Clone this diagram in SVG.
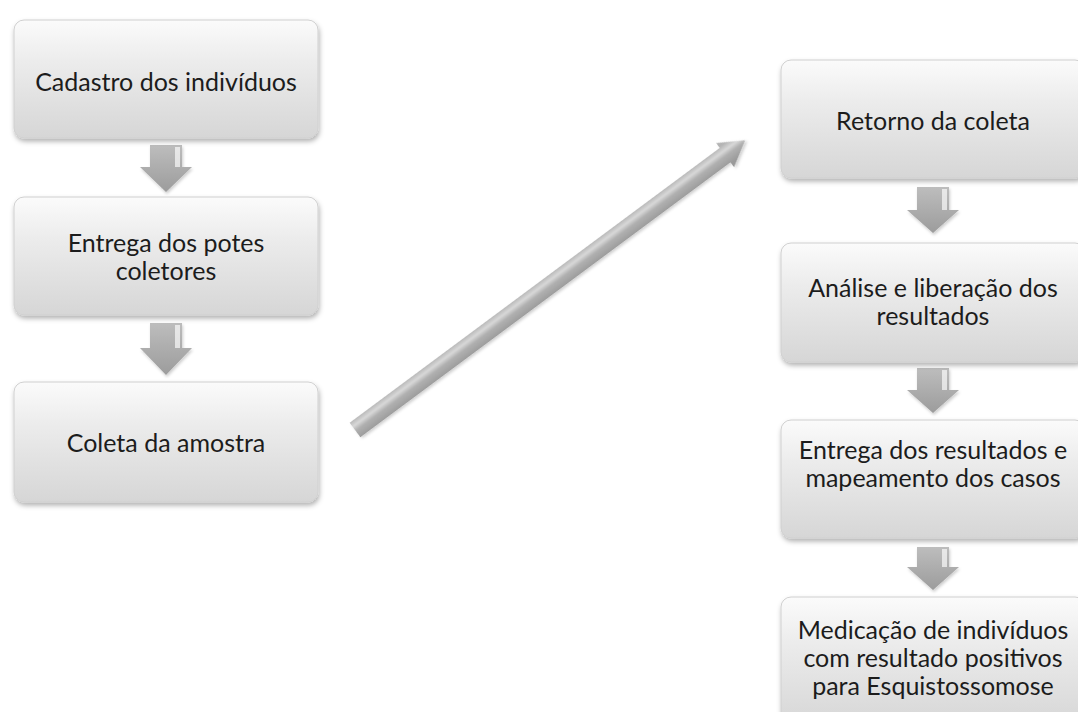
<svg xmlns="http://www.w3.org/2000/svg" width="1078" height="712" viewBox="0 0 1078 712">
<defs>
<linearGradient id="boxg" x1="0" y1="0" x2="0" y2="1">
<stop offset="0" stop-color="#fbfbfb"/>
<stop offset="0.35" stop-color="#ececec"/>
<stop offset="1" stop-color="#d6d6d6"/>
</linearGradient>
<linearGradient id="arrg" x1="0" y1="0" x2="0" y2="1">
<stop offset="0" stop-color="#bdbdbd"/>
<stop offset="1" stop-color="#9c9c9c"/>
</linearGradient>
<linearGradient id="diag" gradientUnits="userSpaceOnUse" x1="0" y1="-10" x2="0" y2="10">
<stop offset="0" stop-color="#b4b4b4"/>
<stop offset="0.3" stop-color="#d8d8d8"/>
<stop offset="0.55" stop-color="#b0b0b0"/>
<stop offset="1" stop-color="#9a9a9a"/>
</linearGradient>
<filter id="sh" x="-10%" y="-10%" width="120%" height="130%">
<feDropShadow dx="1" dy="3" stdDeviation="2.5" flood-color="#000" flood-opacity="0.3"/>
</filter>
<filter id="ash" x="-20%" y="-20%" width="140%" height="140%">
<feDropShadow dx="1" dy="2" stdDeviation="1.5" flood-color="#000" flood-opacity="0.2"/>
</filter>
</defs>
<style>
.box{fill:url(#boxg);stroke:#d0d0d0;stroke-width:1;filter:url(#sh)}
.t{font-family:Lato,"Open Sans","Liberation Sans",sans-serif;font-size:25px;fill:#1c1c1c;text-anchor:middle}
.arr{fill:url(#arrg);filter:url(#ash)}
.hl{fill:#ffffff;opacity:0.65}
</style>
<rect width="1078" height="712" fill="#ffffff"/>
<g id="connectors">
<g id="a1"><path class="arr" d="M150,145 H182 V167 H192 L166,192 L140,167 H150 Z"/><rect class="hl" x="175" y="147" width="5" height="20"/></g>
<g id="a2"><path class="arr" d="M150,323 H182 V348 H192 L166,375 L140,348 H150 Z"/><rect class="hl" x="175" y="325" width="5" height="23"/></g>
<g id="a3"><path class="arr" d="M917,187 H949 V210 H959 L933,233 L907,210 H917 Z"/><rect class="hl" x="942" y="189" width="5" height="21"/></g>
<g id="a4"><path class="arr" d="M917,368 H949 V390 H959 L933,413 L907,390 H917 Z"/><rect class="hl" x="942" y="370" width="5" height="20"/></g>
<g id="a5"><path class="arr" d="M917,547 H949 V567 H959 L933,590 L907,567 H917 Z"/><rect class="hl" x="942" y="549" width="5" height="18"/></g>
<g id="diagonal" transform="translate(355,430) rotate(-36.6)">
<path d="M0,-9 H461 V-15 L486,0 L461,15 V9 H0 Z" fill="url(#diag)" filter="url(#ash)"/>
</g>
</g>
<g id="n1"><rect class="box" x="14" y="20" width="304" height="118" rx="10"/><text class="t" x="166" y="91">Cadastro dos indivíduos</text></g>
<g id="n2"><rect class="box" x="14" y="197" width="304" height="118" rx="10"/><text class="t" x="166" y="252">Entrega dos potes</text><text class="t" x="166" y="280">coletores</text></g>
<g id="n3"><rect class="box" x="14" y="382" width="304" height="120" rx="10"/><text class="t" x="166" y="452">Coleta da amostra</text></g>
<g id="n4"><rect class="box" x="781" y="60" width="304" height="118" rx="10"/><text class="t" x="933" y="130">Retorno da coleta</text></g>
<g id="n5"><rect class="box" x="781" y="243" width="304" height="119" rx="10"/><text class="t" x="933" y="297">Análise e liberação dos</text><text class="t" x="933" y="325">resultados</text></g>
<g id="n6"><rect class="box" x="781" y="420" width="304" height="118" rx="10"/><text class="t" x="933" y="459">Entrega dos resultados e</text><text class="t" x="933" y="487">mapeamento dos casos</text></g>
<g id="n7"><rect class="box" x="781" y="597" width="304" height="130" rx="10"/><text class="t" x="933" y="639">Medicação de indivíduos</text><text class="t" x="933" y="667">com resultado positivos</text><text class="t" x="933" y="695">para Esquistossomose</text></g>
</svg>
